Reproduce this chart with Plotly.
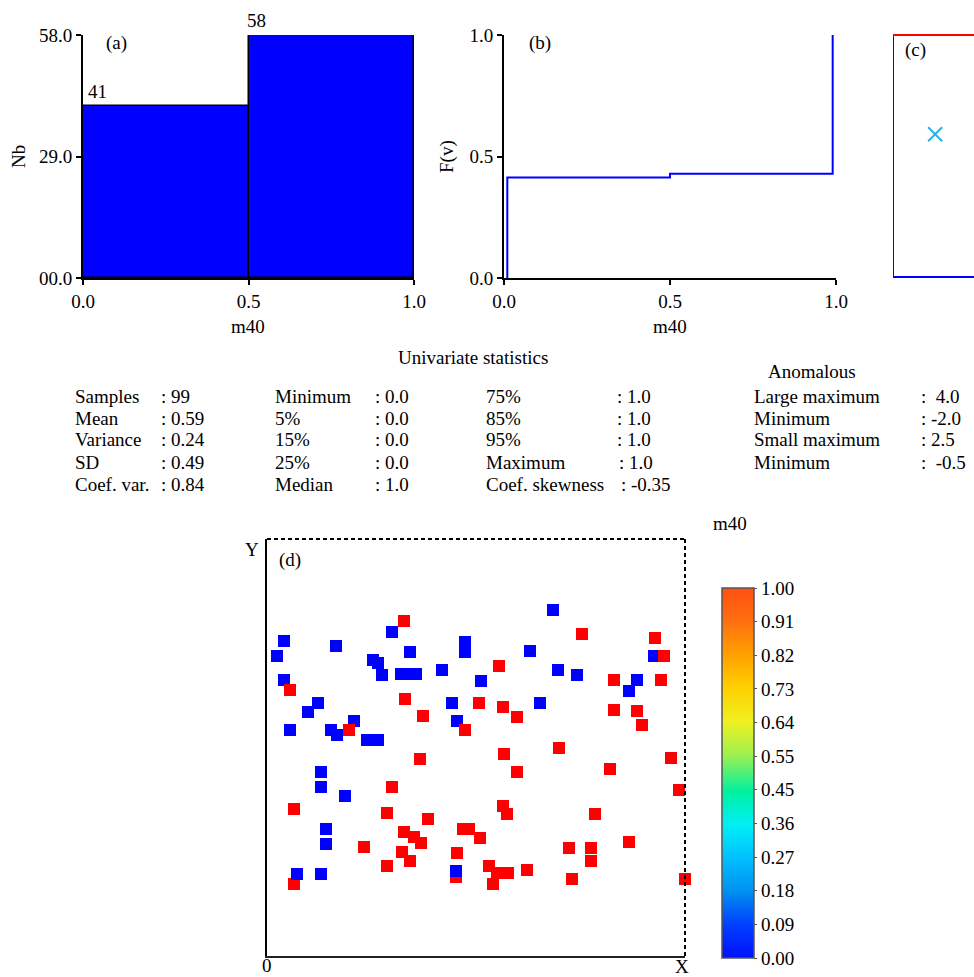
import numpy as np
import plotly.graph_objects as go

W, H = 974, 977
FONT = "Liberation Serif, Times New Roman, serif"


def fx(px):
    return px / W


def fy(py):
    return 1 - py / H


# ---------------- data ----------------
# (a) histogram of m40
bin_edges = [0.0, 0.5, 1.0]
counts = [41, 58]
hist_ticks = [0, 29, 58]
hist_ticktext = ["00.0", "29.0", "58.0"]

# (b) cumulative distribution F(v)
cdf_x = [0.01, 0.01, 0.5, 0.99]
cdf_y = [0.0, 0.414, 0.429, 1.0]

# (c) box plot
box_q1, box_median, box_q3 = 0.0, 1.0, 1.0
box_mean = 0.59

# (d) sample locations, m40 value (0 = blue, 1 = red); drawn in this order
x_blue_a = [286, 125, 17, 69, 10, 143, 198, 198, 106, 111, 115, 134, 141, 149, 175, 17, 51, 41,
            185, 190, 23, 64, 70, 87, 100, 111, 263, 387, 291, 310, 214, 370, 362, 273, 54, 54,
            78, 59, 59, 54]
y_blue_a = [346, 324, 315, 310, 300, 304, 314, 304, 296, 293, 281, 282, 282, 282, 286, 276, 253, 244,
            253, 235, 226, 226, 221, 235, 216, 216, 305, 300, 286, 281, 275, 276, 265, 253, 184, 169,
            160, 127, 112, 82]
x_red = [137, 315, 388, 397, 232, 347, 394, 23, 138, 212, 236, 156, 250, 347, 370, 375, 198, 82,
         292, 237, 153, 404, 250, 343, 125, 412, 27, 120, 236, 240, 161, 328, -2, 137, 147, 154,
         196, 202, 213, 97, 135, 143, 190, 302, 324, 324, 362, 120, 222, 230, 241, 260, 189, 27,
         226, 305, 418]
y_red = [335, 322, 318, 300, 290, 276, 276, 266, 257, 253, 249, 240, 239, 246, 245, 231, 226, 226,
         208, 202, 197, 198, 184, 187, 169, 166, 147, 143, 150, 142, 137, 142, 124, 124, 119, 113,
         127, 127, 118, 109, 104, 95, 103, 108, 108, 95, 114, 90, 90, 83, 83, 86, 79, 72,
         72, 77, 77]
x_blue_b = [30, 189]
y_blue_b = [82, 85]

# colour bar
cbar_ticktext = ["0.00", "0.09", "0.18", "0.27", "0.36", "0.45", "0.55", "0.64", "0.73", "0.82", "0.91", "1.00"]

# statistics
stat_labels_1 = ["Samples", "Mean", "Variance", "SD", "Coef. var."]
stat_values_1 = [": 99", ": 0.59", ": 0.24", ": 0.49", ": 0.84"]
stat_labels_2 = ["Minimum", "5%", "15%", "25%", "Median"]
stat_values_2 = [": 0.0", ": 0.0", ": 0.0", ": 0.0", ": 1.0"]
stat_labels_3 = ["75%", "85%", "95%", "Maximum", "Coef. skewness"]
stat_values_3 = [": 1.0", ": 1.0", ": 1.0", ": 1.0", ": -0.35"]
anom_labels = ["Large maximum", "Minimum", "Small maximum", "Minimum"]
anom_values = [":\u00a0\u00a04.0", ": -2.0", ": 2.5", ":\u00a0\u00a0-0.5"]

# ---------------- figure ----------------
fig = go.Figure()
BLUE = "#0000FF"
RED = "#FF0000"

# (a)
centers = [(bin_edges[i] + bin_edges[i + 1]) / 2 for i in range(len(counts))]
widths = [bin_edges[i + 1] - bin_edges[i] for i in range(len(counts))]
fig.add_trace(go.Bar(x=centers, y=counts, width=widths, marker=dict(color=BLUE, line=dict(color="black", width=1.5)),
                     xaxis="x", yaxis="y", showlegend=False, hoverinfo="skip"))

# (b)
fig.add_trace(go.Scatter(x=cdf_x, y=cdf_y, mode="lines", line=dict(color=BLUE, width=2, shape="hv"),
                         xaxis="x2", yaxis="y2", showlegend=False, hoverinfo="skip"))

# (c)
box_w = 1.04
fig.add_trace(go.Scatter(x=[box_w, 0, 0, box_w], y=[box_q1, box_q1, box_q3, box_q3], mode="lines",
                         line=dict(color=BLUE, width=2), xaxis="x3", yaxis="y3", showlegend=False, hoverinfo="skip"))
fig.add_trace(go.Scatter(x=[0, box_w], y=[box_median, box_median], mode="lines",
                         line=dict(color=RED, width=2), xaxis="x3", yaxis="y3", showlegend=False, hoverinfo="skip"))
fig.add_trace(go.Scatter(x=[box_w / 2], y=[box_mean], mode="markers",
                         marker=dict(symbol="x-thin", size=14, line=dict(color="#1EB4F0", width=2)),
                         xaxis="x3", yaxis="y3", showlegend=False, hoverinfo="skip"))

# (d)
pts_x = x_blue_a + x_red + x_blue_b
pts_y = y_blue_a + y_red + y_blue_b
pts_v = [0] * len(x_blue_a) + [1] * len(x_red) + [0] * len(x_blue_b)
pts_col = [BLUE if v == 0 else RED for v in pts_v]
fig.add_trace(go.Scatter(x=pts_x, y=pts_y, mode="markers",
                         marker=dict(symbol="square", size=12, color=pts_col, line=dict(width=0)),
                         cliponaxis=False, xaxis="x4", yaxis="y4", showlegend=False, hoverinfo="skip"))

jet = [[0.0, "#0010FF"], [0.09, "#0040FF"], [0.18, "#0090F0"], [0.27, "#00C0FF"], [0.36, "#00F0F5"],
       [0.45, "#00F0A0"], [0.55, "#A0F050"], [0.64, "#F0F020"], [0.73, "#FFD000"], [0.82, "#FFA000"],
       [0.91, "#FF7010"], [1.0, "#FF5010"]]
fig.add_trace(go.Scatter(x=pts_x, y=pts_y, mode="markers",
                         marker=dict(color=pts_v, colorscale=jet, cmin=0, cmax=1, opacity=0, size=1,
                                     showscale=True,
                                     colorbar=dict(x=fx(722), xanchor="left", y=fy(958), yanchor="bottom",
                                                   xpad=0, ypad=0, thickness=32, thicknessmode="pixels",
                                                   len=370, lenmode="pixels", outlinecolor="#555",
                                                   outlinewidth=1.5, ticks="outside", ticklen=3,
                                                   tickcolor="#555",
                                                   tickvals=list(np.linspace(0, 1, len(cbar_ticktext))),
                                                   ticktext=cbar_ticktext,
                                                   tickfont=dict(family=FONT, size=19, color="black"))),
                         xaxis="x4", yaxis="y4", showlegend=False, hoverinfo="skip"))

axis_common = dict(showline=True, linecolor="black", linewidth=2, ticks="outside", ticklen=5, tickwidth=2,
                   tickcolor="black", showgrid=False, zeroline=False,
                   tickfont=dict(family=FONT, size=19, color="black"))

c_lo, c_hi = -0.0125, 1.0125
fig.update_layout(
    width=W, height=H, margin=dict(l=0, r=0, t=0, b=0, autoexpand=False),
    paper_bgcolor="white", plot_bgcolor="white",
    font=dict(family=FONT, size=19, color="black"), showlegend=False, bargap=0,
    xaxis=dict(domain=[fx(83), fx(414)], range=[0, 1], tickvals=[0, 0.5, 1], ticktext=["0.0", "0.5", "1.0"],
               anchor="y", **axis_common),
    yaxis=dict(domain=[fy(278), fy(35)], range=[0, 58], tickvals=hist_ticks, ticktext=hist_ticktext,
               anchor="x", **axis_common),
    xaxis2=dict(domain=[fx(504), fx(836)], range=[0, 1], tickvals=[0, 0.5, 1], ticktext=["0.0", "0.5", "1.0"],
                anchor="y2", **axis_common),
    yaxis2=dict(domain=[fy(278), fy(35)], range=[0, 1], tickvals=[0, 0.5, 1], ticktext=["0.0", "0.5", "1.0"],
                anchor="x2", **axis_common),
    xaxis3=dict(domain=[fx(893), 1.0], range=[0, 1], visible=False, anchor="y3"),
    yaxis3=dict(domain=[fy(277 - c_lo * 242), fy(277 - c_hi * 242)], range=[c_lo, c_hi], visible=False, anchor="x3"),
    xaxis4=dict(domain=[fx(267), fx(685)], range=[0, 418], showline=True, linecolor="#222", linewidth=2,
                showticklabels=False, ticks="", showgrid=False, zeroline=False, anchor="y4"),
    yaxis4=dict(domain=[fy(956), fy(539)], range=[0, 417], showline=True, linecolor="black", linewidth=2,
                showticklabels=False, ticks="", showgrid=False, zeroline=False, anchor="x4"),
)

# dashed top/right frame of (d)
fig.add_shape(type="line", xref="x4 domain", yref="y4 domain", x0=0, x1=1, y0=1, y1=1,
              line=dict(color="black", width=2, dash="4px,3px"))
fig.add_shape(type="line", xref="x4 domain", yref="y4 domain", x0=1, x1=1, y0=0, y1=1,
              line=dict(color="black", width=2, dash="4px,3px"))

ann = []


def txt(x, y, s, xanchor="left", size=19, angle=0):
    ann.append(dict(x=fx(x), y=fy(y), xref="paper", yref="paper", text=s, showarrow=False,
                    xanchor=xanchor, yanchor="middle", textangle=angle,
                    font=dict(family=FONT, size=size, color="black")))


# bar value labels
for i, c in enumerate(counts):
    ann.append(dict(x=bin_edges[i], y=c, xref="x", yref="y", text=str(c), showarrow=False,
                    xanchor="left", yanchor="bottom", xshift=3 if i == 0 else -4, yshift=2,
                    font=dict(family=FONT, size=19, color="black")))

txt(104, 43, "(a)")
txt(527, 43, "(b)")
txt(903, 50, "(c)")
txt(277, 560, "(d)")
txt(18, 157, "Nb", xanchor="center", angle=-90)
txt(447, 157, "F(v)", xanchor="center", angle=-90)
txt(248, 326, "m40", xanchor="center")
txt(670, 326, "m40", xanchor="center")
txt(473, 357, "Univariate statistics", xanchor="center")
txt(812, 371, "Anomalous", xanchor="center")
txt(252, 549, "Y", xanchor="center")
txt(267, 965, "0", xanchor="center")
txt(682, 966, "X", xanchor="center")
txt(730, 523, "m40", xanchor="center")

rows_y = [396, 418, 440, 462, 484]
for i in range(5):
    txt(73, rows_y[i], stat_labels_1[i])
    txt(159, rows_y[i], stat_values_1[i])
    txt(273, rows_y[i], stat_labels_2[i])
    txt(373, rows_y[i], stat_values_2[i])
    txt(484, rows_y[i], stat_labels_3[i])
    txt(615 if i < 3 else (617 if i == 3 else 619), rows_y[i], stat_values_3[i])
for i in range(4):
    txt(752, rows_y[i], anom_labels[i])
    txt(919, rows_y[i], anom_values[i])

fig.update_layout(annotations=ann)
fig.write_html("out.html", config={"displayModeBar": False},
               post_script="document.body.style.margin='0';document.body.style.overflow='hidden';")
